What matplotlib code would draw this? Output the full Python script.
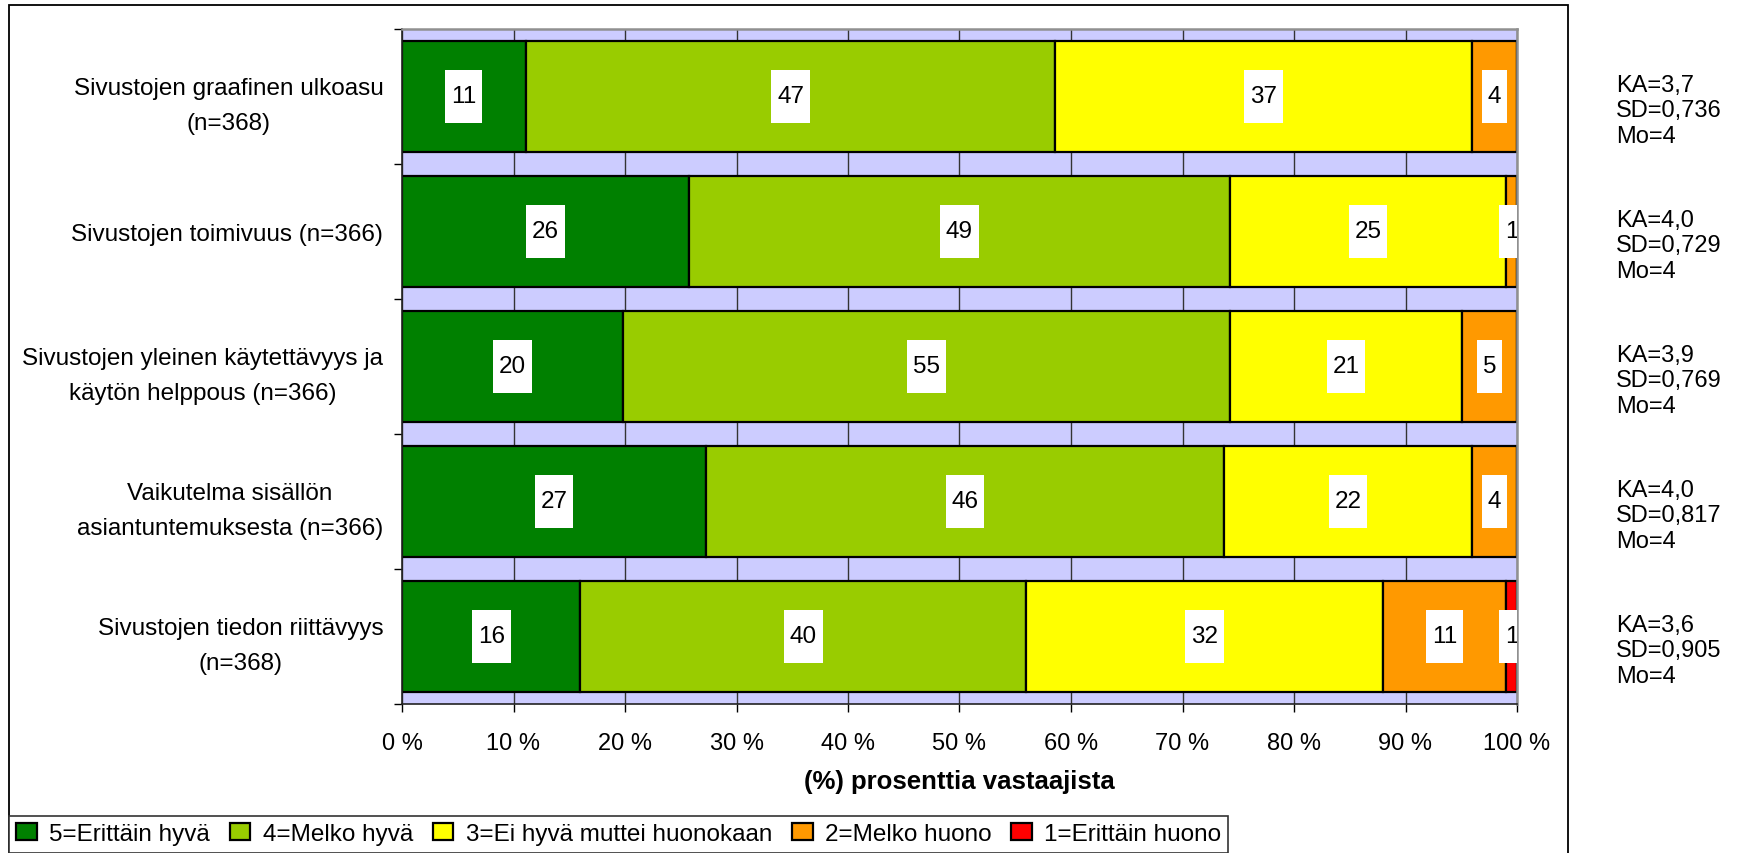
import matplotlib
matplotlib.use("Agg")
import matplotlib.pyplot as plt
import matplotlib.patches as mpatches
from matplotlib.path import Path
from matplotlib.legend_handler import HandlerPatch
import numpy as np

plt.rcParams['font.family'] = ['Liberation Sans', 'DejaVu Sans']

# ── Data ──
categories = [
    "Sivustojen graafinen ulkoasu\n(n=368)",
    "Sivustojen toimivuus (n=366)",
    "Sivustojen yleinen käytettävyys ja\nkäytön helppous (n=366)",
    "Vaikutelma sisällön\nasiantuntemuksesta (n=366)",
    "Sivustojen tiedon riittävyys\n(n=368)",
]
erittain_hyva = [11, 26, 20, 27, 16]
melko_hyva = [47, 49, 55, 46, 40]
ei_hyva_ei_huono = [37, 25, 21, 22, 32]
melko_huono = [4, 1, 5, 4, 11]
erittain_huono = [0, 0, 0, 0, 1]

series_names = ["5=Erittäin hyvä", "4=Melko hyvä", "3=Ei hyvä muttei huonokaan",
                "2=Melko huono", "1=Erittäin huono"]
series_colors = ["#008000", "#99CC00", "#FFFF00", "#FF9900", "#FF0000"]

ka = ["3,7", "4,0", "3,9", "4,0", "3,6"]
sd = ["0,736", "0,729", "0,769", "0,817", "0,905"]
mo = ["4", "4", "4", "4", "4"]

x_ticks = list(range(0, 101, 10))
x_tick_labels = [f"{t} %" for t in x_ticks]


def label_box(x0, y0, width, height, mutation_size):
    # white label box, narrow sideways and tall vertically (Excel style)
    padx = 0.24 * mutation_size
    pady = 0.62 * mutation_size
    xa, ya = x0 - padx, y0 - pady
    xb, yb = x0 + width + padx, y0 + height + pady
    return Path([(xa, ya), (xb, ya), (xb, yb), (xa, yb), (xa, ya)], closed=True)


def square_handle(legend, orig_handle, xdescent, ydescent, width, height, fontsize):
    side = 0.43 * fontsize
    return mpatches.Rectangle((width - side - xdescent, -ydescent + (height - side) / 2 - 0.12 * fontsize),
                              side, side)


def main():
    W, H = 1738, 854
    fig = plt.figure(figsize=(W / 100, H / 100), dpi=100)

    # outer chart frame (bottom is cut off like in the original)
    fig.add_artist(mpatches.Rectangle((9 / W, -0.05), (1568 - 9) / W, 1 - 6 / H + 0.05,
                                      transform=fig.transFigure, fill=False,
                                      edgecolor='black', linewidth=1.3, zorder=0))

    ax = fig.add_axes([402 / W, 1 - 705 / H, (1517 - 402) / W, (705 - 30) / H])
    ax.set_facecolor('#CCCCFF')

    series = [erittain_hyva, melko_hyva, ei_hyva_ei_huono, melko_huono, erittain_huono]
    data = np.array(series, dtype=float)
    totals = data.sum(axis=0)
    shares = data / totals * 100

    y = np.arange(len(categories))
    left = np.zeros(len(categories))
    for vals, pct, name, color in zip(data, shares, series_names, series_colors):
        ax.barh(y, pct, left=left, height=0.82, color=color, edgecolor='black',
                linewidth=1.6, label=name, zorder=2)
        for yi, v, l, p in zip(y, vals, left, pct):
            if v > 0:
                ax.text(l + p / 2, yi, f"{int(v)}", ha='center', va='center', fontsize=17.5,
                        zorder=4, clip_on=True,
                        bbox=dict(boxstyle=label_box, facecolor='white', edgecolor='none'))
        left += pct

    ax.set_xlim(0, 100)
    ax.set_ylim(len(categories) - 0.5, -0.5)

    ax.xaxis.grid(True, color='#333333', linewidth=1)
    ax.set_axisbelow(True)

    for side in ('left', 'bottom'):
        ax.spines[side].set_color('#222222')
        ax.spines[side].set_linewidth(1.2)
    for side in ('top', 'right'):
        ax.spines[side].set_color('#909090')
        ax.spines[side].set_linewidth(1.8)

    ax.set_xticks(x_ticks, x_tick_labels)
    ax.tick_params(axis='x', length=5.8, width=1, pad=14, labelsize=17)
    ax.set_yticks(y, categories)
    ax.set_yticks(np.arange(-0.5, len(categories), 1), minor=True)
    ax.tick_params(axis='y', which='major', length=0, pad=13.5, labelsize=17.5)
    ax.tick_params(axis='y', which='minor', length=5.8, width=1)
    for lbl in ax.get_yticklabels():
        lbl.set_multialignment('center')
        lbl.set_linespacing(1.75)

    ax.set_xlabel("(%) prosenttia vastaajista", fontsize=18.5, fontweight='bold', labelpad=11)

    # statistics next to each bar
    for yi, a, s, m in zip(y, ka, sd, mo):
        ax.annotate(f"KA={a}\nSD={s}\nMo={m}", xy=(1616 / W, yi),
                    xycoords=('figure fraction', 'data'), xytext=(0, -10),
                    textcoords='offset points', ha='left', va='center',
                    fontsize=17, linespacing=1.2, annotation_clip=False)

    handles, labels = ax.get_legend_handles_labels()
    leg = fig.legend(handles, labels, ncol=5, loc='upper left',
                     bbox_to_anchor=(9 / W, 1 - 817 / H), bbox_transform=fig.transFigure,
                     borderaxespad=0, borderpad=0.3, fontsize=17.5,
                     handlelength=0.85, handletextpad=0.5, columnspacing=0.82,
                     fancybox=False, framealpha=1, edgecolor='#333333',
                     handler_map={mpatches.Rectangle: HandlerPatch(patch_func=square_handle)})
    leg.get_frame().set_linewidth(1.2)

    fig.savefig("out.png", dpi=100)


if __name__ == '__main__':
    main()
